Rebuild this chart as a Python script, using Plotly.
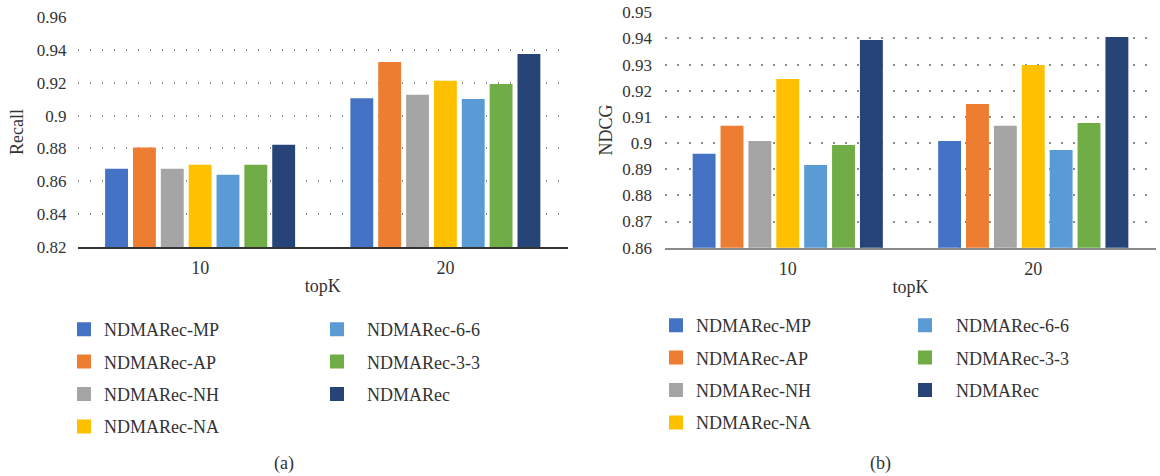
import plotly.graph_objects as go

categories = ["10", "20"]
series_names = ["NDMARec-MP", "NDMARec-AP", "NDMARec-NH", "NDMARec-NA",
                "NDMARec-6-6", "NDMARec-3-3", "NDMARec"]
colors = ["#4472C4", "#ED7D31", "#A5A5A5", "#FFC000", "#5B9BD5", "#70AD47", "#264478"]

recall_mp = [0.867, 0.910]
recall_ap = [0.880, 0.932]
recall_nh = [0.867, 0.912]
recall_na = [0.8695, 0.9206]
recall_66 = [0.8634, 0.9095]
recall_33 = [0.8695, 0.9186]
recall_full = [0.8817, 0.9369]

ndcg_mp = [0.8955, 0.9004]
ndcg_ap = [0.9062, 0.9146]
ndcg_nh = [0.9004, 0.9062]
ndcg_na = [0.9241, 0.9295]
ndcg_66 = [0.8912, 0.8970]
ndcg_33 = [0.8989, 0.9073]
ndcg_full = [0.9390, 0.9402]

recall_values = [recall_mp, recall_ap, recall_nh, recall_na, recall_66, recall_33, recall_full]
ndcg_values = [ndcg_mp, ndcg_ap, ndcg_nh, ndcg_na, ndcg_66, ndcg_33, ndcg_full]

FONT = "Liberation Serif"
TXT = "#333333"

fig = go.Figure()
for i, (name, vals) in enumerate(zip(series_names, recall_values)):
    fig.add_trace(go.Bar(
        x=categories, y=vals, name=name,
        marker=dict(color=colors[i], line=dict(width=2, color=colors[i])),
        xaxis="x", yaxis="y", legend="legend" if i < 4 else "legend2",
        legendgroup="a" + str(i),
    ))
for i, (name, vals) in enumerate(zip(series_names, ndcg_values)):
    fig.add_trace(go.Bar(
        x=categories, y=vals, name=name,
        marker=dict(color=colors[i], line=dict(width=2, color=colors[i])),
        xaxis="x2", yaxis="y2", legend="legend3" if i < 4 else "legend4",
        legendgroup="b" + str(i),
    ))

W, H = 1160, 476
def px_x(p):
    return p / W
def px_y(p):
    return 1 - p / H

grid = dict(showgrid=True, gridcolor="#8c8c8c", gridwidth=1.6, griddash="1.6px,10.4px")

legend_common = dict(
    font=dict(family=FONT, size=18, color=TXT), bgcolor="rgba(0,0,0,0)",
    orientation="v", xanchor="left", yanchor="top", tracegroupgap=6,
    itemclick=False, itemdoubleclick=False,
)

fig.update_layout(
    width=W, height=H,
    margin=dict(l=0, r=0, t=0, b=0, autoexpand=False),
    paper_bgcolor="white", plot_bgcolor="white",
    font=dict(family=FONT, size=17, color=TXT),
    barmode="group", bargap=0.205, bargroupgap=0.25,
    showlegend=True,
    xaxis=dict(domain=[px_x(77.5), px_x(568)], type="category", anchor="y",
               automargin=False,
               showline=True, linecolor="#333333", linewidth=1.6, ticks="",
               tickfont=dict(size=18), ticklabelstandoff=4,
               title=dict(text="topK", font=dict(size=18), standoff=2)),
    yaxis=dict(domain=[px_y(247), px_y(17)], range=[0.82, 0.96], dtick=0.02,
               anchor="x", automargin=False, showline=False, zeroline=False, ticks="",
               tickfont=dict(size=17), ticklabelstandoff=10,
               title=dict(text="Recall", font=dict(size=18), standoff=8), **grid),
    xaxis2=dict(domain=[px_x(665), px_x(1156)], type="category", anchor="y2",
                automargin=False,
                showline=True, linecolor="#8a8a8a", linewidth=2.2, ticks="",
                tickfont=dict(size=18), ticklabelstandoff=4,
                title=dict(text="topK", font=dict(size=18), standoff=2)),
    yaxis2=dict(domain=[px_y(247.7), px_y(12.3)], range=[0.86, 0.95], dtick=0.01,
                anchor="x2", automargin=False, showline=False, zeroline=False, ticks="",
                tickfont=dict(size=17), ticklabelstandoff=12,
                title=dict(text="NDCG", font=dict(size=18), standoff=4), **grid),
    legend=dict(x=px_x(64), y=px_y(311), **legend_common),
    legend2=dict(x=px_x(307), y=px_y(311), itemwidth=50, **legend_common),
    legend3=dict(x=px_x(656), y=px_y(307), **legend_common),
    legend4=dict(x=px_x(894), y=px_y(307), itemwidth=52, **legend_common),
    annotations=[
        dict(text="(a)", x=px_x(284), y=px_y(463), xref="paper", yref="paper",
             xanchor="center", yanchor="middle",
             showarrow=False, font=dict(family=FONT, size=18, color=TXT)),
        dict(text="(b)", x=px_x(880), y=px_y(463), xref="paper", yref="paper",
             xanchor="center", yanchor="middle",
             showarrow=False, font=dict(family=FONT, size=18, color=TXT)),
    ],
)

fig.write_html("out.html", config={"displayModeBar": False},
               post_script="document.body.style.margin='0px';")
